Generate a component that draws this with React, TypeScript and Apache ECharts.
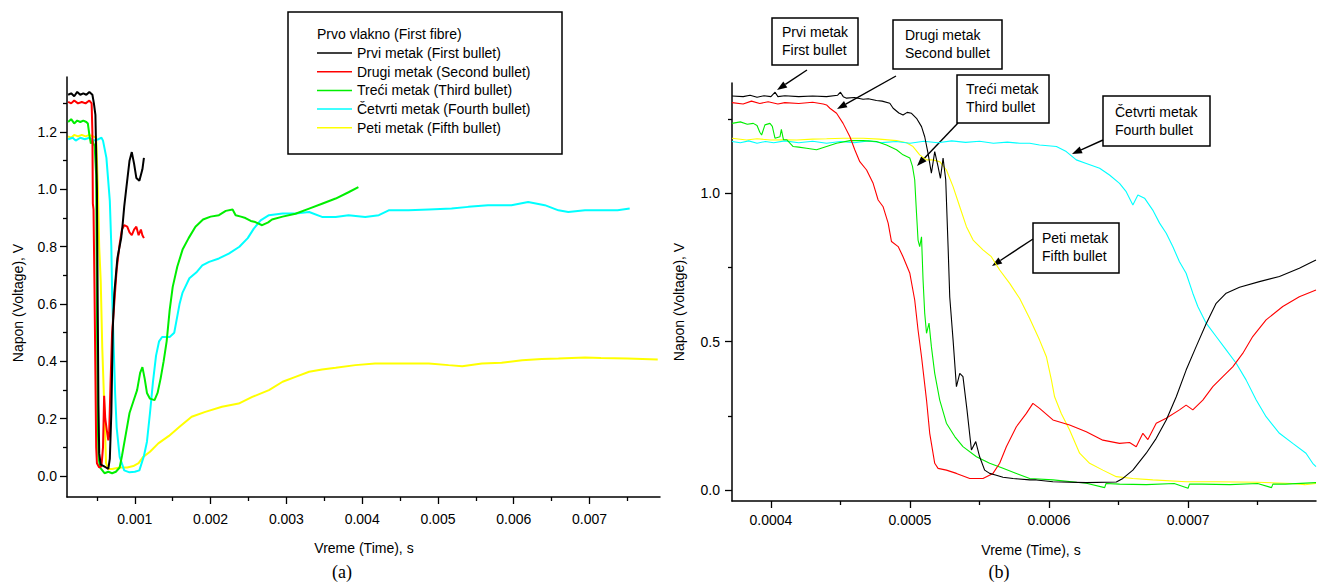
import React, { useEffect, useRef } from "react";
import * as echarts from "echarts";

// ---------- Series names / colours ----------
const SERIES_NAMES = [
  "Prvi metak (First bullet)",
  "Drugi metak (Second bullet)",
  "Treći metak (Third bullet)",
  "Četvrti metak (Fourth bullet)",
  "Peti metak (Fifth bullet)",
];
const SERIES_COLORS = ["#000000", "#ff0000", "#00ee00", "#00ffff", "#ffff00"];

// ---------- Panel (a): time in seconds, voltage in V ----------
const A_BLACK: [number, number][] = [
  [0.00012, 1.33], [0.00016, 1.335], [0.0002, 1.325], [0.00024, 1.34], [0.00028, 1.33], [0.00032, 1.335],
  [0.00036, 1.33], [0.0004, 1.34], [0.00044, 1.33], [0.00046, 1.3], [0.00048, 1.26], [0.0005, 1.0],
  [0.00051, 0.6], [0.00052, 0.25], [0.00053, 0.08], [0.00055, 0.04], [0.00059, 0.035], [0.00062, 0.03],
  [0.00065, 0.025], [0.00067, 0.06], [0.00069, 0.22], [0.00071, 0.52], [0.00073, 0.64], [0.00077, 0.76],
  [0.00082, 0.83], [0.00084, 0.88], [0.00086, 0.94], [0.00089, 1.01], [0.00093, 1.1], [0.00096, 1.13],
  [0.00099, 1.09], [0.00102, 1.04], [0.00106, 1.03], [0.0011, 1.07], [0.00112, 1.11],
];
const A_RED: [number, number][] = [
  [0.00012, 1.305], [0.00016, 1.3], [0.0002, 1.31], [0.00025, 1.3], [0.0003, 1.305], [0.00035, 1.3],
  [0.0004, 1.31], [0.00043, 1.3], [0.00044, 1.2], [0.000446, 0.95], [0.000455, 0.93], [0.000468, 0.65],
  [0.00048, 0.35], [0.00049, 0.1], [0.0005, 0.045], [0.00053, 0.03], [0.00056, 0.035], [0.00058, 0.1],
  [0.000595, 0.28], [0.00061, 0.2], [0.00063, 0.16], [0.00065, 0.125], [0.00066, 0.14], [0.00068, 0.33],
  [0.0007, 0.5], [0.00072, 0.57], [0.00076, 0.72], [0.0008, 0.81], [0.00083, 0.86], [0.00086, 0.875],
  [0.0009, 0.87], [0.00093, 0.85], [0.00096, 0.84], [0.00099, 0.86], [0.00102, 0.87], [0.00105, 0.84],
  [0.00108, 0.86], [0.0011, 0.84], [0.00112, 0.83],
];
const A_GREEN: [number, number][] = [
  [0.00012, 1.235], [0.00016, 1.245], [0.0002, 1.23], [0.00024, 1.24], [0.00028, 1.235], [0.00032, 1.24],
  [0.00036, 1.235], [0.00038, 1.23], [0.0004, 1.19], [0.00042, 1.16], [0.00044, 1.17], [0.00047, 1.15],
  [0.00049, 1.05], [0.0005, 0.6], [0.00051, 0.2], [0.00052, 0.07], [0.00054, 0.03], [0.0006, 0.01],
  [0.00065, 0.015], [0.0007, 0.01], [0.00075, 0.015], [0.0008, 0.03], [0.00083, 0.07], [0.00087, 0.13],
  [0.00093, 0.22], [0.00098, 0.26], [0.00103, 0.3], [0.00107, 0.36], [0.0011, 0.38], [0.00113, 0.34],
  [0.00116, 0.29], [0.0012, 0.27], [0.00126, 0.265], [0.0013, 0.29], [0.00134, 0.34], [0.00138, 0.4],
  [0.00142, 0.47], [0.00146, 0.58], [0.0015, 0.66], [0.00156, 0.73], [0.00163, 0.79], [0.00171, 0.83],
  [0.0018, 0.87], [0.0019, 0.895], [0.002, 0.905], [0.00211, 0.91], [0.0022, 0.925], [0.00229, 0.93],
  [0.00233, 0.91], [0.0024, 0.905], [0.00246, 0.9], [0.00253, 0.89], [0.00259, 0.886], [0.00268, 0.875],
  [0.00276, 0.885], [0.00281, 0.895], [0.00295, 0.905], [0.00312, 0.915], [0.0033, 0.933], [0.00347, 0.95],
  [0.00365, 0.968], [0.00382, 0.99], [0.00395, 1.008],
];
const A_CYAN: [number, number][] = [
  [0.00012, 1.175], [0.00018, 1.18], [0.00022, 1.17], [0.00028, 1.18], [0.00034, 1.175], [0.0004, 1.18],
  [0.00046, 1.17], [0.00052, 1.175], [0.00056, 1.18], [0.00058, 1.17], [0.000625, 1.11], [0.00067, 0.96],
  [0.00069, 0.8], [0.0007, 0.64], [0.00072, 0.46], [0.00074, 0.29], [0.00076, 0.17], [0.0008, 0.067],
  [0.00086, 0.02], [0.00093, 0.013], [0.001, 0.015], [0.00106, 0.02], [0.00112, 0.07], [0.00116, 0.12],
  [0.0012, 0.22], [0.00124, 0.33], [0.00128, 0.42], [0.00132, 0.47], [0.00136, 0.485], [0.00146, 0.485],
  [0.00152, 0.5], [0.00159, 0.6], [0.00163, 0.64], [0.00172, 0.69], [0.00181, 0.71], [0.00189, 0.735],
  [0.00198, 0.747], [0.00211, 0.759], [0.00224, 0.776], [0.00238, 0.8], [0.00249, 0.83], [0.00257, 0.863],
  [0.00266, 0.892], [0.00277, 0.91], [0.00295, 0.916], [0.00312, 0.916], [0.0033, 0.921], [0.00347, 0.904],
  [0.00365, 0.904], [0.00382, 0.91], [0.00404, 0.904], [0.00422, 0.91], [0.00435, 0.927], [0.00461, 0.927],
  [0.00488, 0.93], [0.00518, 0.933], [0.0054, 0.939], [0.00566, 0.945], [0.00597, 0.945], [0.00619, 0.956],
  [0.00641, 0.945], [0.00659, 0.927], [0.00672, 0.921], [0.00694, 0.927], [0.00715, 0.927], [0.00737, 0.927],
  [0.00753, 0.933],
];
const A_YELLOW: [number, number][] = [
  [0.00012, 1.185], [0.00016, 1.18], [0.0002, 1.19], [0.00025, 1.185], [0.0003, 1.19], [0.00035, 1.185],
  [0.0004, 1.19], [0.00045, 1.185], [0.00049, 1.18], [0.00051, 1.03], [0.00053, 0.8], [0.00055, 0.68],
  [0.00057, 0.45], [0.0006, 0.22], [0.00062, 0.045], [0.00065, 0.025], [0.0007, 0.025], [0.0008, 0.03],
  [0.0009, 0.03], [0.00098, 0.035], [0.00105, 0.045], [0.00111, 0.067], [0.0012, 0.085], [0.00131, 0.114],
  [0.00145, 0.14], [0.00159, 0.172], [0.00175, 0.207], [0.00193, 0.224], [0.00215, 0.242], [0.00237, 0.253],
  [0.00255, 0.276], [0.00277, 0.3], [0.00295, 0.329], [0.00312, 0.346], [0.0033, 0.364], [0.00347, 0.372],
  [0.00365, 0.378], [0.00391, 0.387], [0.00417, 0.393], [0.00452, 0.393], [0.00488, 0.393], [0.00514, 0.387],
  [0.00532, 0.383], [0.00558, 0.393], [0.00584, 0.395], [0.00611, 0.404], [0.00637, 0.408], [0.00659, 0.41],
  [0.00694, 0.414], [0.00715, 0.412], [0.0075, 0.41], [0.0079, 0.407],
];

// ---------- Panel (b): time in microseconds, voltage in V ----------
const B_BLACK: [number, number][] = [
  [372, 1.327], [380, 1.325], [385, 1.33], [390, 1.323], [395, 1.328], [400, 1.325], [403, 1.34], [405, 1.325],
  [410, 1.328], [420, 1.325], [430, 1.327], [440, 1.325], [448, 1.33], [450, 1.34], [452, 1.325], [454.4, 1.32],
  [460, 1.322], [466.3, 1.316], [470, 1.318], [475.9, 1.312], [480, 1.31], [485.5, 1.303], [487.9, 1.286],
  [492, 1.27], [495, 1.263], [498, 1.272], [501.1, 1.269], [504.7, 1.252], [508.3, 1.224], [510.6, 1.19],
  [513, 1.134], [515.4, 1.067], [517.8, 1.14], [520.2, 1.089], [521.9, 1.05], [523.8, 1.118], [525.7, 1.045],
  [527.4, 0.82], [528.6, 0.65], [531, 0.505], [533.4, 0.348], [535.8, 0.393], [538.1, 0.382], [541, 0.27],
  [544.2, 0.135], [547.3, 0.163], [550.1, 0.112], [553.7, 0.067], [557.3, 0.056], [562.1, 0.05], [566.9, 0.043],
  [574.1, 0.039], [586.1, 0.034], [590.9, 0.034], [602.8, 0.028], [626.8, 0.025], [648.4, 0.027], [653.1, 0.039],
  [660.3, 0.067], [669.9, 0.124], [677.1, 0.174], [684.3, 0.236], [691.5, 0.314], [698.6, 0.404], [705.8, 0.483],
  [713, 0.56], [720.2, 0.629], [727.4, 0.663], [737, 0.683], [751.3, 0.702], [765.7, 0.719], [780, 0.747],
  [787.2, 0.764], [792, 0.775],
];
const B_RED: [number, number][] = [
  [372, 1.305], [380, 1.3], [386, 1.31], [392, 1.302], [398, 1.308], [405, 1.3], [410, 1.305], [420, 1.302],
  [430, 1.306], [437.6, 1.3], [440, 1.297], [442.4, 1.286], [447.2, 1.269], [451.9, 1.235], [456.8, 1.19],
  [460.3, 1.146], [463.9, 1.106], [468.8, 1.078], [473.5, 1.033], [477.1, 0.977], [480.7, 0.954], [484.3, 0.899],
  [486.7, 0.837], [491.5, 0.82], [495, 0.786], [499.9, 0.73], [503.4, 0.64], [505.8, 0.539], [508.3, 0.449],
  [511.9, 0.303], [514.2, 0.191], [517.8, 0.09], [520.2, 0.073], [526.2, 0.067], [533.4, 0.056], [543, 0.039],
  [552.5, 0.039], [559.7, 0.056], [564.5, 0.09], [569.3, 0.146], [576.5, 0.213], [583.7, 0.258], [588.4, 0.292],
  [593.2, 0.275], [602.8, 0.236], [614.8, 0.219], [626.8, 0.196], [638.7, 0.168], [650.7, 0.157], [657.9, 0.16],
  [662.7, 0.146], [667.5, 0.191], [671.1, 0.17], [677.1, 0.225], [684.3, 0.242], [693.8, 0.27], [698.6, 0.286],
  [703.4, 0.27], [710.6, 0.303], [717.8, 0.348], [725, 0.382], [732.1, 0.415], [739.3, 0.46], [746.5, 0.517],
  [756.1, 0.573], [768.1, 0.618], [780, 0.651], [792, 0.674],
];
const B_GREEN: [number, number][] = [
  [372, 1.235], [378, 1.24], [383, 1.232], [387.3, 1.235], [390, 1.228], [392, 1.205], [393.3, 1.196],
  [395.7, 1.23], [399.3, 1.235], [401, 1.225], [402.9, 1.185], [406.5, 1.19], [407.5, 1.215], [409, 1.18],
  [411.3, 1.18], [416, 1.157], [420, 1.155], [425.6, 1.151], [432.8, 1.146], [440, 1.157], [447.2, 1.168],
  [456.8, 1.177], [466.3, 1.177], [475.9, 1.174], [483.1, 1.162], [490.3, 1.146], [495, 1.129], [499.9, 1.118],
  [501.8, 1.09], [503.4, 1.045], [504.7, 0.932], [505.8, 0.842], [507, 0.82], [508.3, 0.853], [509.4, 0.708],
  [510.6, 0.595], [511.9, 0.528], [513.7, 0.562], [515.4, 0.483], [517.8, 0.393], [521.4, 0.303], [526.2, 0.225],
  [532.2, 0.18], [538.1, 0.146], [547.8, 0.112], [557.3, 0.09], [566.9, 0.073], [576.5, 0.056], [586.1, 0.039],
  [602.8, 0.034], [620, 0.026], [626.8, 0.023], [640, 0.008], [641, 0.022], [650.7, 0.02], [670, 0.018],
  [690, 0.022], [700, 0.006], [701, 0.02], [710, 0.02], [730, 0.018], [750, 0.022], [760, 0.008], [761, 0.02],
  [770, 0.02], [792, 0.025],
];
const B_CYAN: [number, number][] = [
  [372, 1.174], [378, 1.17], [384, 1.176], [390, 1.168], [396, 1.174], [402, 1.17], [410, 1.176], [420, 1.17],
  [430, 1.175], [440, 1.168], [450, 1.174], [460, 1.17], [470, 1.176], [480, 1.17], [490, 1.174], [500, 1.168],
  [510, 1.175], [520, 1.17], [530, 1.176], [540, 1.171], [550, 1.175], [560, 1.168], [570, 1.172], [578.9, 1.168],
  [586.1, 1.168], [593.2, 1.162], [605.3, 1.157], [612.4, 1.14], [619.6, 1.112], [626.8, 1.1], [636.4, 1.084],
  [643.5, 1.061], [650.7, 1.033], [655.5, 1.005], [660.3, 0.96], [663.9, 0.994], [668.7, 0.983], [674.6, 0.943],
  [679.5, 0.899], [684.3, 0.865], [689, 0.82], [693.8, 0.769], [698.6, 0.73], [703.4, 0.663], [707, 0.618],
  [713, 0.562], [720.2, 0.517], [727.4, 0.472], [734.6, 0.427], [741.7, 0.371], [749, 0.303], [756.1, 0.247],
  [765.7, 0.191], [775.3, 0.157], [784.8, 0.124], [789.6, 0.09], [792, 0.079],
];
const B_YELLOW: [number, number][] = [
  [372, 1.185], [382.5, 1.179], [390, 1.183], [400, 1.179], [410, 1.18], [418.5, 1.179], [430, 1.182],
  [440, 1.183], [451.9, 1.185], [466.3, 1.185], [478, 1.182], [490.3, 1.177], [497.5, 1.17], [502.2, 1.157],
  [507, 1.129], [511.9, 1.112], [516.6, 1.112], [521.4, 1.106], [526.2, 1.078], [531, 1.022], [535.8, 0.954],
  [540.6, 0.887], [545.4, 0.842], [552.5, 0.809], [558.5, 0.786], [564.5, 0.741], [571.7, 0.696], [578.9, 0.645],
  [586.1, 0.578], [593.2, 0.505], [598.1, 0.449], [601.7, 0.371], [604, 0.314], [608.8, 0.258], [614.8, 0.202],
  [622, 0.124], [629.2, 0.09], [638.7, 0.067], [648.4, 0.045], [660.3, 0.039], [674.6, 0.034], [698.6, 0.028],
  [720, 0.028], [750, 0.026], [775, 0.022], [784, 0.018], [792, 0.022],
];

// ---------- Axis ticks ----------
const A_X_MAJOR = [0.001, 0.002, 0.003, 0.004, 0.005, 0.006, 0.007];
const A_X_MINOR = [0.0005, 0.0015, 0.0025, 0.0035, 0.0045, 0.0055, 0.0065, 0.0075];
const A_Y_MAJOR = [0, 0.2, 0.4, 0.6, 0.8, 1.0, 1.2];
const A_Y_MINOR = [0.1, 0.3, 0.5, 0.7, 0.9, 1.1, 1.3];
const B_X_MAJOR = [0.0004, 0.0005, 0.0006, 0.0007];
const B_X_MINOR = [0.00045, 0.00055, 0.00065, 0.00075];
const B_Y_MAJOR = [0, 0.5, 1.0];
const B_Y_MINOR = [0.25, 0.75, 1.25];

const A_RANGE = { xMin: 0.000105, xMax: 0.00793, yMin: -0.073, yMax: 1.392 };
const B_RANGE = { xMin: 0.000372, xMax: 0.000792, yMin: -0.037, yMax: 1.371 };

const FONT = '"Liberation Sans", Arial, sans-serif';
const FS = 14;

// annotations of panel (b)
const B_NOTES = [
  { text: "Prvi metak\nFirst bullet", box: [772, 18, 86, 47], tx: 782, ty: 40.5, arrow: [807, 70, 777, 90] },
  { text: "Drugi metak\nSecond bullet", box: [893, 20, 109, 49], tx: 905, ty: 43.5, arrow: [896, 76, 837, 109] },
  { text: "Treći metak\nThird bullet", box: [957, 75, 92, 48], tx: 966, ty: 98, arrow: [958, 123, 917, 166] },
  { text: "Četvrti metak\nFourth bullet", box: [1103, 96, 107, 50], tx: 1115, ty: 120.5, arrow: [1103, 140, 1072, 154] },
  { text: "Peti metak\nFifth bullet", box: [1033, 223, 86, 50], tx: 1042, ty: 246.5, arrow: [1033, 239, 992, 266] },
];

function arrowGraphics(x1: number, y1: number, x2: number, y2: number) {
  const dx = x2 - x1, dy = y2 - y1;
  const len = Math.sqrt(dx * dx + dy * dy);
  const ux = dx / len, uy = dy / len;
  const hl = 10, hw = 3.6;
  const bx = x2 - ux * hl, by = y2 - uy * hl;
  return [
    { type: "line", shape: { x1, y1, x2: bx, y2: by }, style: { stroke: "#000", lineWidth: 1.4 } },
    {
      type: "polygon",
      shape: { points: [[x2, y2], [bx - uy * hw, by + ux * hw], [bx + uy * hw, by - ux * hw]] },
      style: { fill: "#000" },
    },
  ];
}

function makeXAxes(grid: number, r: any, major: number[], minor: number[], dec: number, margin: number) {
  const line = { color: "#000", width: 1.5 };
  return [
    {
      type: "value", gridIndex: grid, min: r.xMin, max: r.xMax, position: "bottom",
      axisLine: { show: true, onZero: false, lineStyle: line },
      axisTick: { show: true, customValues: major, length: 7, lineStyle: { color: "#000", width: 1.3 } },
      axisLabel: {
        show: true, customValues: major, margin, color: "#000", fontSize: FS, fontFamily: FONT,
        formatter: (v: number) => v.toFixed(dec),
      },
      splitLine: { show: false },
    },
    {
      type: "value", gridIndex: grid, min: r.xMin, max: r.xMax, position: "bottom",
      axisLine: { show: false, onZero: false },
      axisTick: { show: true, customValues: minor, length: 4, lineStyle: { color: "#000", width: 1.3 } },
      axisLabel: { show: false },
      splitLine: { show: false },
    },
  ];
}
function makeYAxes(grid: number, r: any, major: number[], minor: number[], dec: number, margin: number) {
  const line = { color: "#000", width: 1.5 };
  return [
    {
      type: "value", gridIndex: grid, min: r.yMin, max: r.yMax, position: "left",
      axisLine: { show: true, onZero: false, lineStyle: line },
      axisTick: { show: true, customValues: major, length: 7, lineStyle: { color: "#000", width: 1.3 } },
      axisLabel: {
        show: true, customValues: major, margin, color: "#000", fontSize: FS, fontFamily: FONT,
        formatter: (v: number) => v.toFixed(dec),
      },
      splitLine: { show: false },
    },
    {
      type: "value", gridIndex: grid, min: r.yMin, max: r.yMax, position: "left",
      axisLine: { show: false, onZero: false },
      axisTick: { show: true, customValues: minor, length: 4, lineStyle: { color: "#000", width: 1.3 } },
      axisLabel: { show: false },
      splitLine: { show: false },
    },
  ];
}

export default function App() {
  const ref = useRef<HTMLDivElement>(null);
  useEffect(() => {
    if (!ref.current) return;
    const chart = echarts.init(ref.current, undefined, { renderer: "svg" });
    const aData = [A_BLACK, A_RED, A_GREEN, A_CYAN, A_YELLOW];
    const bData = [B_BLACK, B_RED, B_GREEN, B_CYAN, B_YELLOW].map((s) =>
      s.map(([t, v]) => [t * 1e-6, v])
    );
    const series: any[] = [];
    aData.forEach((d, i) => {
      series.push({
        type: "line", name: SERIES_NAMES[i], xAxisIndex: 0, yAxisIndex: 0, data: d,
        showSymbol: false, symbol: "none", clip: true,
        lineStyle: { color: SERIES_COLORS[i], width: 2 }, itemStyle: { color: SERIES_COLORS[i] },
        z: 10 - i,
      });
    });
    bData.forEach((d, i) => {
      series.push({
        type: "line", name: SERIES_NAMES[i], xAxisIndex: 2, yAxisIndex: 2, data: d,
        showSymbol: false, symbol: "none", clip: true,
        lineStyle: { color: SERIES_COLORS[i], width: 1.1 }, itemStyle: { color: SERIES_COLORS[i] },
        z: 10 - i,
      });
    });

    const graphics: any[] = [
      { type: "rect", shape: { x: 288, y: 12, width: 274, height: 142 }, style: { fill: "none", stroke: "#000", lineWidth: 1.5 } },
      { type: "text", x: 317, y: 34, style: { text: "Prvo vlakno (First fibre)", font: `${FS}px ${FONT}`, fill: "#000", verticalAlign: "middle" } },
      { type: "text", x: 18, y: 303, rotation: Math.PI / 2, style: { text: "Napon (Voltage), V", font: `${FS}px ${FONT}`, fill: "#000", align: "center", verticalAlign: "middle" } },
      { type: "text", x: 364, y: 548, style: { text: "Vreme (Time), s", font: `${FS}px ${FONT}`, fill: "#000", align: "center", verticalAlign: "middle" } },
      { type: "text", x: 342, y: 572, style: { text: "(a)", font: `18px "Liberation Serif", "Times New Roman", serif`, fill: "#000", align: "center", verticalAlign: "middle" } },
      { type: "text", x: 679, y: 302, rotation: Math.PI / 2, style: { text: "Napon (Voltage), V", font: `${FS}px ${FONT}`, fill: "#000", align: "center", verticalAlign: "middle" } },
      { type: "text", x: 1031, y: 550, style: { text: "Vreme (Time), s", font: `${FS}px ${FONT}`, fill: "#000", align: "center", verticalAlign: "middle" } },
      { type: "text", x: 999, y: 572, style: { text: "(b)", font: `18px "Liberation Serif", "Times New Roman", serif`, fill: "#000", align: "center", verticalAlign: "middle" } },
    ];
    B_NOTES.forEach((n) => {
      graphics.push({ type: "rect", shape: { x: n.box[0], y: n.box[1], width: n.box[2], height: n.box[3] }, style: { fill: "#fff", stroke: "#000", lineWidth: 1.5 } });
      graphics.push({ type: "text", x: n.tx, y: n.ty, style: { text: n.text, font: `${FS}px ${FONT}`, fill: "#000", verticalAlign: "middle", lineHeight: 18 } });
      graphics.push(...arrowGraphics(n.arrow[0], n.arrow[1], n.arrow[2], n.arrow[3]));
    });

    chart.setOption({
      animation: false,
      backgroundColor: "#fff",
      grid: [
        { left: 67, top: 77, width: 593, height: 420 },
        { left: 732, top: 83, width: 584, height: 418 },
      ],
      xAxis: [
        ...makeXAxes(0, A_RANGE, A_X_MAJOR, A_X_MINOR, 3, 15),
        ...makeXAxes(1, B_RANGE, B_X_MAJOR, B_X_MINOR, 4, 12),
      ],
      yAxis: [
        ...makeYAxes(0, A_RANGE, A_Y_MAJOR, A_Y_MINOR, 1, 10),
        ...makeYAxes(1, B_RANGE, B_Y_MAJOR, B_Y_MINOR, 1, 12),
      ],
      legend: {
        data: SERIES_NAMES, orient: "vertical", left: 317, top: 46, padding: 0,
        icon: "rect", itemWidth: 35, itemHeight: 1.5, itemGap: 4.7,
        selectedMode: false, textStyle: { color: "#000", fontSize: FS, fontFamily: FONT, height: 14, lineHeight: 14 },
      },
      graphic: { elements: graphics },
      series,
    });
    return () => chart.dispose();
  }, []);
  return (
    <div
      ref={ref}
      style={{ position: "fixed", left: 0, top: 0, width: 1318, height: 583, background: "#fff" }}
    />
  );
}
